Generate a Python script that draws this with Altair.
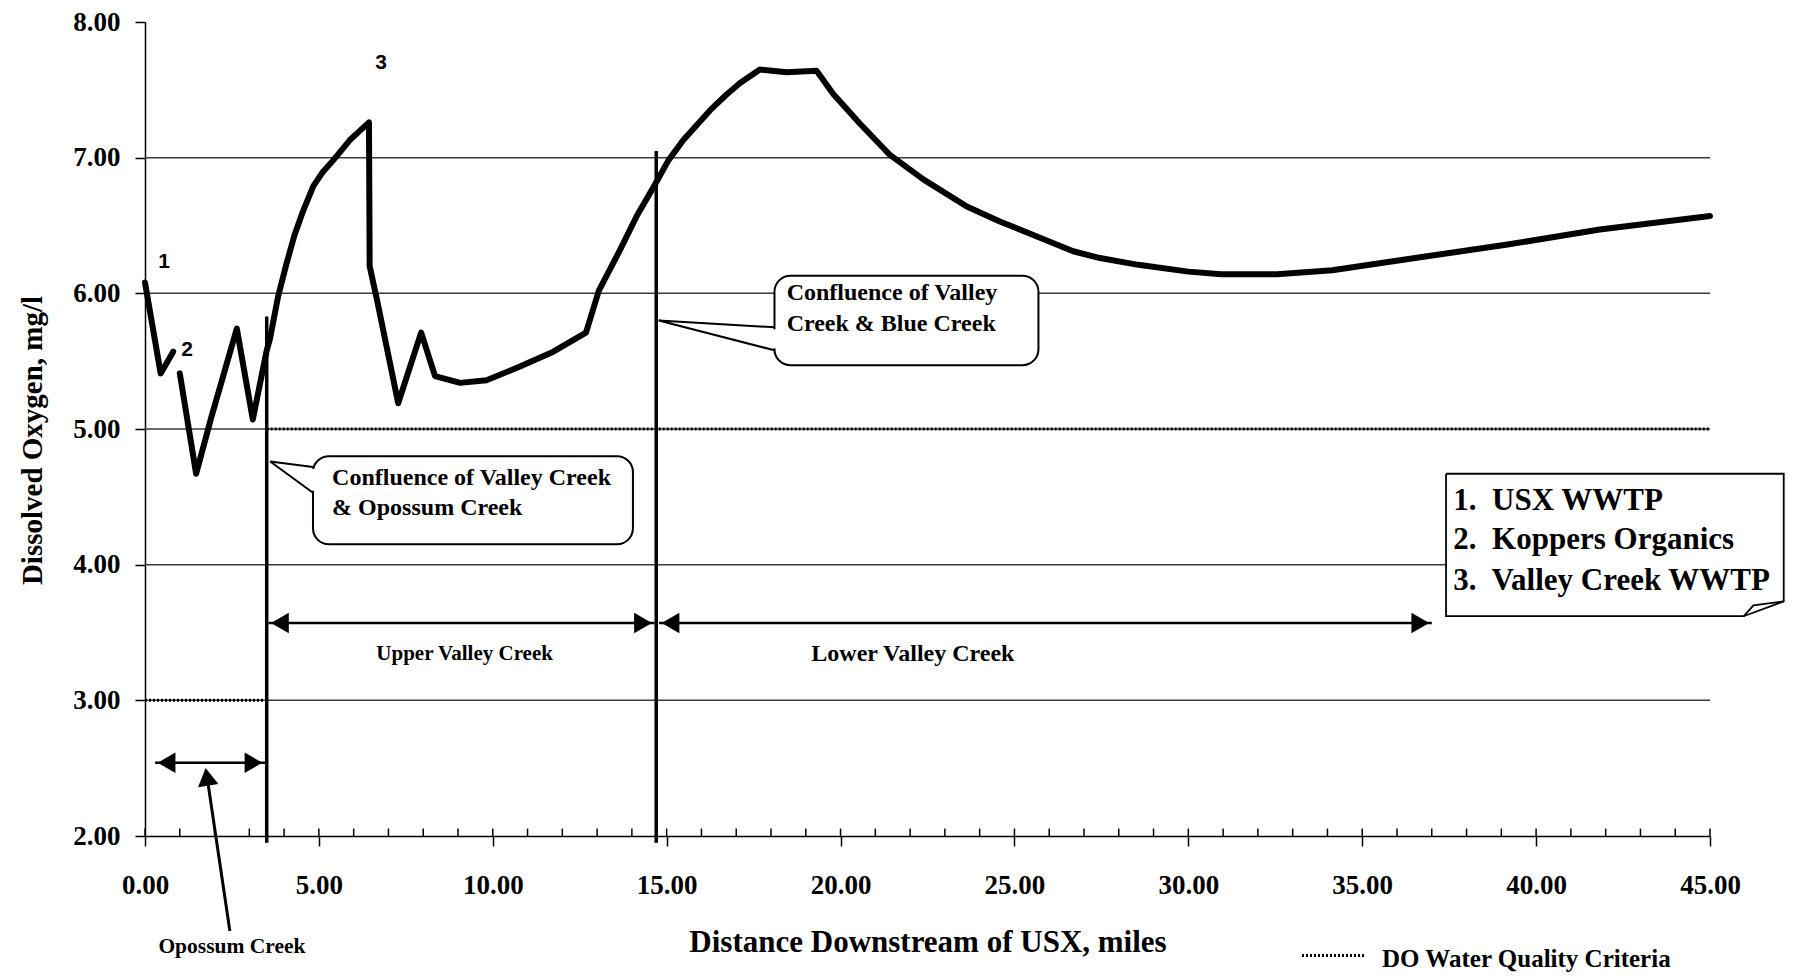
import altair as alt
import pandas as pd

SERIF = "Liberation Serif"
SANS = "Liberation Sans"

# ---------------- data ----------------
# DO profile: short piece below USX outfall, then the main profile after Koppers
seg1_x = [0.00, 0.45, 0.81]
seg1_y = [6.08, 5.41, 5.57]
seg2_x = [1.00, 1.47, 1.90, 2.64, 3.10, 3.50, 3.59, 3.83, 4.07, 4.30, 4.55,
          4.84, 5.10, 5.41, 5.89, 6.44, 6.46, 6.68, 7.28, 7.94, 8.34, 9.06,
          9.82, 10.78, 11.74, 12.68, 13.05, 13.66, 14.14, 14.66, 15.05, 15.48, 16.25,
          16.70, 17.11, 17.68, 18.45, 19.31, 19.79, 20.56, 21.42, 22.38, 23.63, 24.58,
          25.54, 26.69, 27.46, 28.56, 30.00, 30.95, 32.55, 34.14, 36.52, 39.18,
          41.83, 45.00]
seg2_y = [5.41, 4.67, 5.08, 5.74, 5.07, 5.58, 5.66, 5.98, 6.22, 6.43, 6.61,
          6.79, 6.89, 6.98, 7.13, 7.26, 6.20, 5.94, 5.19, 5.71, 5.39, 5.34,
          5.36, 5.46, 5.57, 5.71, 6.02, 6.32, 6.57, 6.80, 6.98, 7.13, 7.35,
          7.46, 7.55, 7.65, 7.63, 7.64, 7.47, 7.25, 7.02, 6.84, 6.64, 6.53,
          6.43, 6.31, 6.26, 6.21, 6.16, 6.14, 6.14, 6.17, 6.26, 6.36,
          6.47, 6.57]

x_ticks = [0, 5, 10, 15, 20, 25, 30, 35, 40, 45]
x_minor = list(range(0, 46))
y_ticks = [2, 3, 4, 5, 6, 7, 8]
grid_levels = [3, 4, 5, 6, 7]

# DO water quality criteria
criteria_x1 = [0.0, 3.5]
criteria_x2 = [3.5, 45.0]
criteria_y = [3.0, 5.0]

# confluences
confluence_x = [3.5, 14.7]
confluence_top = [5.83, 7.05]
confluence_bottom = [1.95, 1.95]

# reach spans (double arrows)
span_x1 = [0.29, 3.55, 14.78]
span_x2 = [3.45, 14.65, 37.0]
span_y = [2.54, 3.57, 3.57]
head_tip_x = [0.29, 3.45, 3.55, 14.65, 14.78, 37.0]
head_tip_y = [2.54, 2.54, 3.57, 3.57, 3.57, 3.57]
head_dir = ["left", "right", "left", "right", "left", "right"]

# callout boxes
box_x1 = [4.83, 18.10]
box_x2 = [14.03, 25.69]
box_y1 = [4.15, 5.47]
box_y2 = [4.80, 6.13]

legend_x1, legend_x2 = 37.41, 47.12
legend_y1, legend_y2 = 3.62, 4.67

marker_text = ["1", "2", "3"]
marker_x = [0.55, 1.21, 6.79]
marker_y = [6.23, 5.58, 7.70]

callout_text = ["Confluence of Valley Creek", "& Opossum Creek",
                "Confluence of Valley", "Creek & Blue Creek"]
callout_x = [5.38, 5.38, 18.45, 18.45]
callout_y = [4.64, 4.42, 6.00, 5.775]

legend_text = ["1.\u00a0 USX WWTP", "2.\u00a0 Koppers Organics", "3.\u00a0 Valley Creek WWTP"]
legend_tx = [37.62, 37.62, 37.62]
legend_ty = [4.47, 4.18, 3.88]

reach_text = ["Upper Valley Creek", "Lower Valley Creek", "Opossum Creek"]
reach_x = [9.19, 22.08, 2.50]
reach_y = [3.34, 3.34, 1.18]
reach_fs = [21, 24, 21.5]

# ---------------- scales / axes ----------------
xs = alt.Scale(domain=[0, 45], nice=False, zero=False)
ys = alt.Scale(domain=[2, 8], nice=False, zero=False)

x_axis = alt.Axis(
    values=x_ticks, format=".2f", labelFont=SERIF, labelFontWeight="bold",
    labelFontSize=27, labelColor="black", labelPadding=26, labelFlush=False,
    labelOverlap=False, labelBaseline="top",
    tickSize=10, tickColor="black", tickWidth=1.5,
    domainColor="black", domainWidth=1.5, grid=False,
    title="Distance Downstream of USX, miles", titleFont=SERIF,
    titleFontWeight="bold", titleFontSize=31, titleColor="black",
    titleY=106, titleBaseline="middle")

y_axis = alt.Axis(
    values=y_ticks, format=".2f", labelFont=SERIF, labelFontWeight="bold",
    labelFontSize=27, labelColor="black", labelPadding=15, labelFlush=False,
    labelOverlap=False,
    tickSize=10, tickColor="black", tickWidth=1.5,
    domainColor="black", domainWidth=1.5, grid=False,
    title="Dissolved Oxygen, mg/l", titleFont=SERIF, titleFontWeight="bold",
    titleFontSize=29, titleColor="black", titleAngle=270,
    titleX=-113, titleY=418, titleAlign="center", titleBaseline="middle")


def X(f):
    return alt.X(f, type="quantitative", scale=xs, axis=x_axis)


def Y(f):
    return alt.Y(f, type="quantitative", scale=ys, axis=y_axis)


# ---------------- tables ----------------
curve_df = pd.DataFrame({
    "x": seg1_x + seg2_x,
    "y": seg1_y + seg2_y,
    "seg": ["a"] * len(seg1_x) + ["b"] * len(seg2_x),
})
curve_df["i"] = range(len(curve_df))

grid_df = pd.DataFrame({"y": grid_levels, "x1": [0] * len(grid_levels),
                        "x2": [45] * len(grid_levels)})
minor_df = pd.DataFrame({"x": x_minor, "y1": [2.0] * len(x_minor),
                         "y2": [2.055] * len(x_minor)})
crit_df = pd.DataFrame({"x1": criteria_x1 + [33.27], "x2": criteria_x2 + [35.08],
                        "y": criteria_y + [1.12]})
conf_df = pd.DataFrame({"x": confluence_x, "y1": confluence_bottom, "y2": confluence_top})
span_df = pd.DataFrame({"x1": span_x1, "x2": span_x2, "y": span_y})

HEAD_OFF = 0.33  # half-length of a head, miles
head_df = pd.DataFrame({
    "x": [t + HEAD_OFF if d == "left" else t - HEAD_OFF for t, d in zip(head_tip_x, head_dir)],
    "y": head_tip_y,
    "shape": ["triangle-left" if d == "left" else "triangle-right" for d in head_dir],
    "angle": [0] * len(head_dir),
})
pointer_head_df = pd.DataFrame({"x": [1.78], "y": [2.436], "shape": ["triangle-up"],
                                "angle": [351.5]})

box_df = pd.DataFrame({"x1": box_x1, "x2": box_x2, "y1": box_y1, "y2": box_y2})
legend_fill_df = pd.DataFrame({"x1": [legend_x1], "x2": [legend_x2],
                               "y1": [legend_y1], "y2": [legend_y2]})
cover_df = pd.DataFrame({"x": [4.83, 18.10], "y1": [4.545, 5.595], "y2": [4.705, 5.735]})

poly = []


def add_poly(pid, pts, w):
    for k, (px, py) in enumerate(pts):
        poly.append({"id": pid, "o": k, "x": px, "y": py, "w": w})


add_poly("w1", [(4.83, 4.72), (3.60, 4.76), (4.83, 4.53)], 2)
add_poly("w2", [(18.10, 5.75), (14.77, 5.80), (18.10, 5.58)], 2)
add_poly("lg", [(legend_x1, legend_y2), (legend_x2, legend_y2), (legend_x2, 3.73),
                (45.97, legend_y1), (legend_x1, legend_y1), (legend_x1, legend_y2)], 1.8)
add_poly("fold", [(45.97, legend_y1), (46.25, 3.70), (legend_x2, 3.73)], 1.8)
add_poly("ptr", [(2.44, 1.30), (1.77, 2.46)], 3)
poly_df = pd.DataFrame(poly)

marker_df = pd.DataFrame({"x": marker_x, "y": marker_y, "t": marker_text})
callout_df = pd.DataFrame({"x": callout_x, "y": callout_y, "t": callout_text})
legend_df = pd.DataFrame({"x": legend_tx, "y": legend_ty, "t": legend_text})
reach_df = pd.DataFrame({"x": reach_x, "y": reach_y, "t": reach_text, "fs": reach_fs})
crit_text_df = pd.DataFrame({"x": [35.57], "y": [1.09], "t": ["DO Water Quality Criteria"]})

# ---------------- layers ----------------
grid = alt.Chart(grid_df).mark_rule(color="#3a3a3a", strokeWidth=1.5).encode(
    x=X("x1"), x2=alt.X2("x2"), y=Y("y"))

crit = alt.Chart(crit_df).mark_rule(color="black", strokeWidth=3, strokeDash=[2, 2]).encode(
    x=X("x1"), x2=alt.X2("x2"), y=Y("y"))

minor = alt.Chart(minor_df).mark_rule(color="black", strokeWidth=1.5).encode(
    x=X("x"), y=Y("y1"), y2=alt.Y2("y2"))

curve = alt.Chart(curve_df).mark_line(
    color="black", strokeWidth=6, strokeJoin="round", strokeCap="round").encode(
    x=X("x"), y=Y("y"), detail="seg:N", order="i:Q")

conf = alt.Chart(conf_df).mark_rule(color="black", strokeWidth=3.5).encode(
    x=X("x"), y=Y("y1"), y2=alt.Y2("y2"))

spans = alt.Chart(span_df).mark_rule(color="black", strokeWidth=2.5).encode(
    x=X("x1"), x2=alt.X2("x2"), y=Y("y"))

heads = alt.Chart(pd.concat([head_df, pointer_head_df])).mark_point(
    filled=True, color="black", size=420, opacity=1).encode(
    x=X("x"), y=Y("y"), shape=alt.Shape("shape:N", scale=None),
    angle=alt.Angle("angle:Q", scale=None))

boxes = alt.Chart(box_df).mark_rect(
    fill="white", stroke="black", strokeWidth=2, cornerRadius=16).encode(
    x=X("x1"), x2=alt.X2("x2"), y=Y("y1"), y2=alt.Y2("y2"))

legend_fill = alt.Chart(legend_fill_df).mark_rect(fill="white").encode(
    x=X("x1"), x2=alt.X2("x2"), y=Y("y1"), y2=alt.Y2("y2"))

cover = alt.Chart(cover_df).mark_rule(color="white", strokeWidth=4).encode(
    x=X("x"), y=Y("y1"), y2=alt.Y2("y2"))

polys = alt.Chart(poly_df).mark_line(color="black", strokeJoin="miter").encode(
    x=X("x"), y=Y("y"), detail="id:N", order="o:Q",
    strokeWidth=alt.StrokeWidth("w:Q", scale=None))

markers = alt.Chart(marker_df).mark_text(
    font=SANS, fontWeight="bold", fontSize=21, color="black",
    align="center", baseline="middle").encode(x=X("x"), y=Y("y"), text="t:N")

callouts = alt.Chart(callout_df).mark_text(
    font=SERIF, fontWeight="bold", fontSize=24, color="black",
    align="left", baseline="middle").encode(x=X("x"), y=Y("y"), text="t:N")

legend_txt = alt.Chart(legend_df).mark_text(
    font=SERIF, fontWeight="bold", fontSize=31, color="black",
    align="left", baseline="middle").encode(x=X("x"), y=Y("y"), text="t:N")

reach_txt = alt.Chart(reach_df).mark_text(
    font=SERIF, fontWeight="bold", color="black",
    align="center", baseline="middle").encode(
    x=X("x"), y=Y("y"), text="t:N", size=alt.Size("fs:Q", scale=None))

crit_txt = alt.Chart(crit_text_df).mark_text(
    font=SERIF, fontWeight="bold", fontSize=25, color="black",
    align="left", baseline="middle").encode(x=X("x"), y=Y("y"), text="t:N")

chart = alt.layer(
    grid, crit, minor, curve, conf, spans, heads, boxes, legend_fill, cover,
    polys, markers, callouts, legend_txt, reach_txt, crit_txt
).properties(
    width=1565, height=814,
    autosize=alt.AutoSizeParams(type="none"),
    padding={"left": 145, "top": 22, "right": 89, "bottom": 141},
    background="white",
).configure_view(stroke=None)

chart.save("out.html", embed_options={"renderer": "svg", "actions": False})
